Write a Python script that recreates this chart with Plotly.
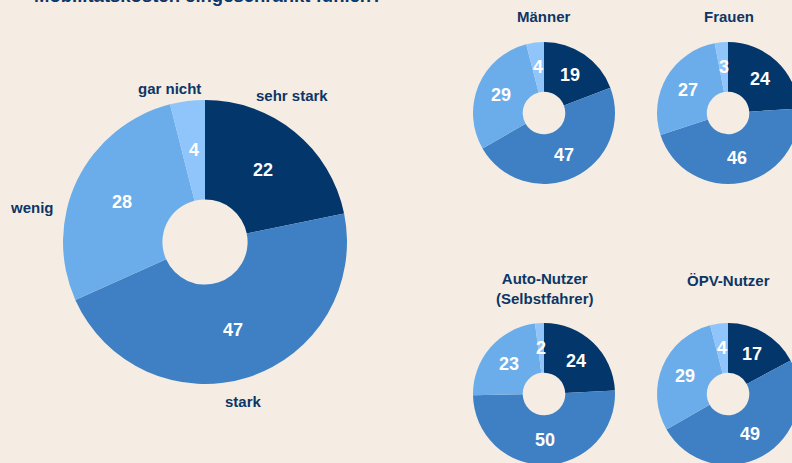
import math
import plotly.graph_objects as go

# ---- data ----
categories = ["sehr stark", "stark", "wenig", "gar nicht"]
gesamt = [22, 47, 28, 4]
maenner = [19, 47, 29, 4]
frauen = [24, 46, 27, 3]
auto_nutzer = [24, 50, 23, 2]
oepv_nutzer = [17, 49, 29, 4]
group_titles = ["Männer", "Frauen", "Auto-Nutzer<br>(Selbstfahrer)", "ÖPV-Nutzer"]
title_text = "Mobilitätskosten eingeschränkt fühlen?"

colors = ["#03366a", "#3e80c3", "#6badea", "#8fc5fb"]
BG = "#f5ede3"
NAVY = "#0d3566"
FONT = "Liberation Sans, Arial, sans-serif"
HOLE = 0.3

W, H = 800, 470  # figure slightly larger than the window -> clipped at right/bottom

fig = go.Figure()


def dom(cx, cy, r):
    return dict(x=[(cx - r) / W, (cx + r) / W],
                y=[(H - (cy + r)) / H, (H - (cy - r)) / H])


def pie(values, cx, cy, r):
    fig.add_trace(go.Pie(
        labels=categories, values=values, sort=False, direction="clockwise",
        rotation=0, hole=HOLE, marker=dict(colors=colors, line=dict(width=0)),
        textinfo="none", showlegend=False, hoverinfo="label+value",
        domain=dom(cx, cy, r),
    ))
    # value labels at the middle of each ring segment (derived from the data)
    total = sum(values)
    cum = 0
    rm = r * (1 + HOLE) / 2
    for v in values:
        a = 2 * math.pi * (cum + v / 2) / total
        cum += v
        x = cx + rm * math.sin(a)
        y = cy - rm * math.cos(a)
        fig.add_annotation(text=str(v), x=x / W, y=(H - y) / H, xref="paper", yref="paper",
                           showarrow=False, xanchor="center", yanchor="middle",
                           font=dict(family=FONT, size=18, color="white", weight="bold"))


pie(gesamt, 205, 242, 142)
pie(maenner, 544, 113, 71)
pie(frauen, 728, 113, 71)
pie(auto_nutzer, 544, 394, 71)
pie(oepv_nutzer, 728, 394, 71)


def ann(text, x, y, size=15):
    fig.add_annotation(text=text, x=x / W, y=(H - y) / H, xref="paper", yref="paper",
                       showarrow=False, xanchor="center", yanchor="middle",
                       font=dict(family=FONT, size=size, color=NAVY, weight="bold"))


# category labels around the big donut
ann(categories[0], 292, 95)
ann(categories[1], 243, 401)
ann(categories[2], 32, 207)
ann(categories[3], 169, 88)

# small donut titles
ann(group_titles[0], 544, 16)
ann(group_titles[1], 729, 16)
ann(group_titles[2], 545, 288)
ann(group_titles[3], 728, 280)

# cut-off main title
ann(title_text, 208, -4, size=18.5)

fig.update_layout(
    width=W, height=H, margin=dict(l=0, r=0, t=0, b=0),
    paper_bgcolor=BG, plot_bgcolor=BG,
)

fig.write_html("out.html", config={"displayModeBar": False},
               post_script="document.body.style.margin='0';document.body.style.overflow='hidden';document.documentElement.style.overflow='hidden';document.body.style.background='%s';" % BG)
